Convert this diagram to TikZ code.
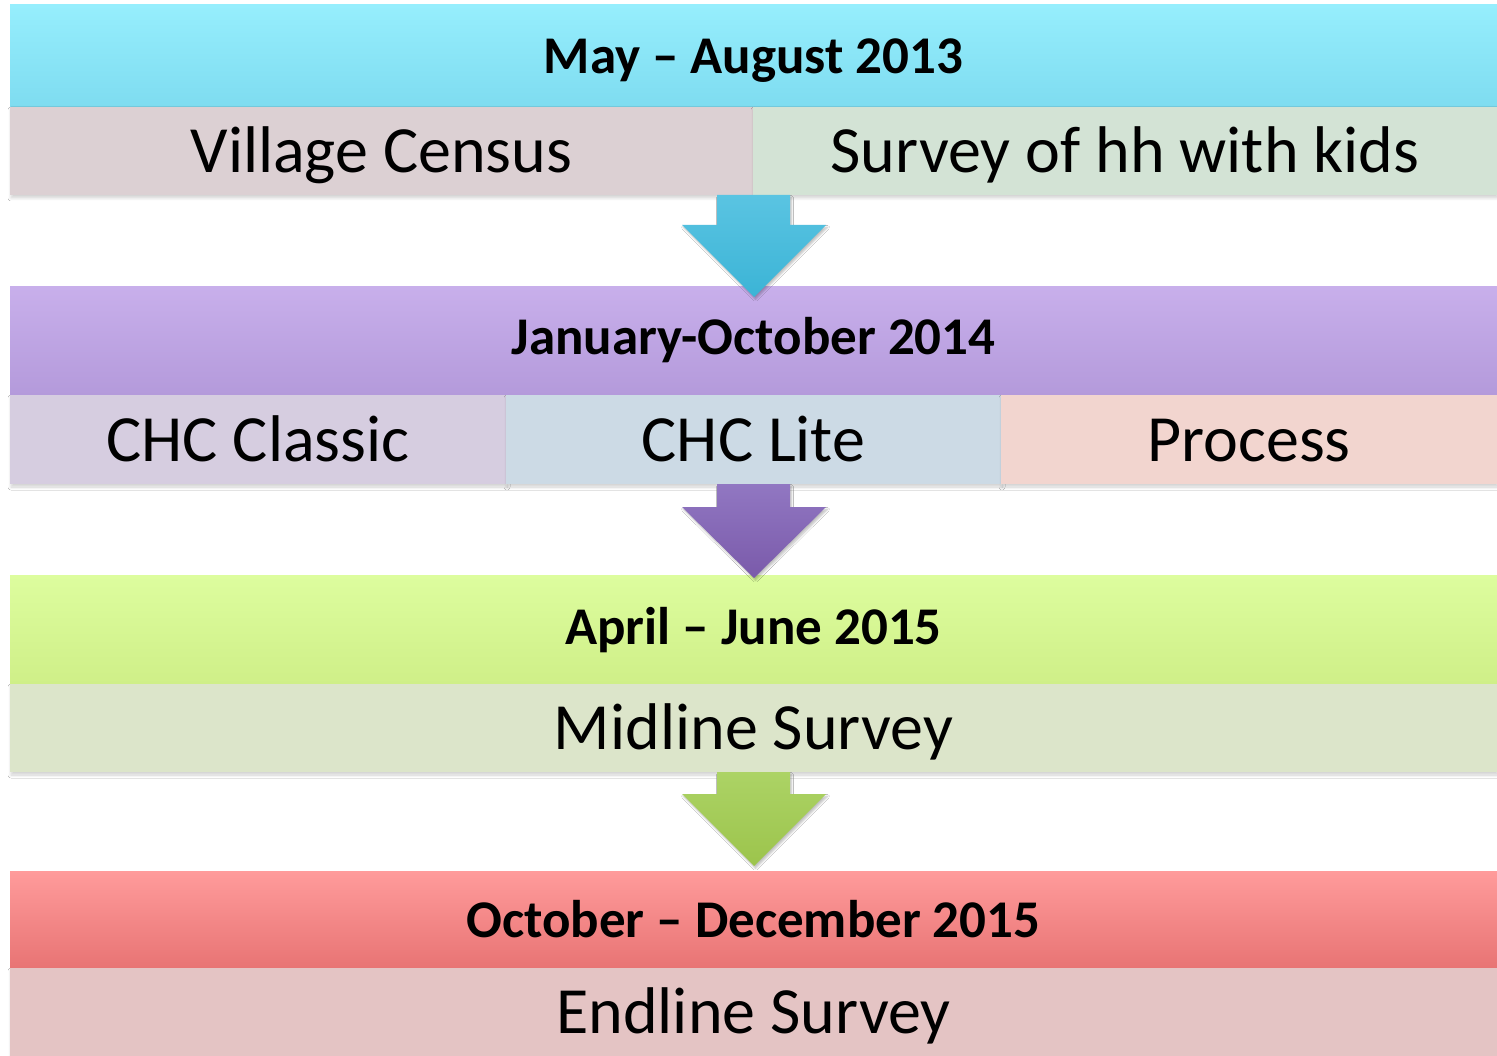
\documentclass[tikz,border=0pt]{standalone}
\usepackage{fontspec}
\setmainfont{Carlito}
\usetikzlibrary{calc,shadows.blur}
\definecolor{hAt}{HTML}{96EEFD}\definecolor{hAb}{HTML}{7EDCF0}
\definecolor{hBt}{HTML}{C8AFEB}\definecolor{hBb}{HTML}{B49ADB}
\definecolor{hCt}{HTML}{DDFD9E}\definecolor{hCb}{HTML}{CFEF88}
\definecolor{hDt}{HTML}{FF9B9B}\definecolor{hDb}{HTML}{E87474}
\definecolor{sVil}{HTML}{DCD0D3}\definecolor{sSur}{HTML}{D3E3D5}
\definecolor{sCla}{HTML}{D6CDE0}\definecolor{sLit}{HTML}{CCDAE5}\definecolor{sPro}{HTML}{F2D5CF}
\definecolor{sMid}{HTML}{DCE5CA}\definecolor{sEnd}{HTML}{E4C4C4}
\definecolor{aAt}{HTML}{5AC4E2}\definecolor{aAb}{HTML}{3BB4D6}
\definecolor{aBt}{HTML}{9177C2}\definecolor{aBb}{HTML}{7A5AAA}
\definecolor{aCt}{HTML}{ACD365}\definecolor{aCb}{HTML}{9CC44C}
\begin{document}
\begin{tikzpicture}[x=1pt,y=-1pt,
  boxbase/.style={rectangle, inner sep=0pt, outer sep=0pt, anchor=north west, text=black},
  hdr/.style={boxbase, font=\fontsize{53}{60}\selectfont\bfseries, text height=36pt, text depth=0pt},
  subbox/.style={boxbase, font=\fontsize{66}{76}\selectfont, text height=43pt, text depth=0pt,
    blur shadow={shadow xshift=1pt, shadow yshift=-3pt, shadow blur steps=8, shadow blur radius=3pt, shadow opacity=18}},
  arr/.style={blur shadow={shadow xshift=1.5pt, shadow yshift=-2.5pt, shadow blur steps=6, shadow opacity=25}}
]
\useasboundingbox (0,0) rectangle (1497,1056);
\fill[white] (0,0) rectangle (1497,1056);

% band 1
\node[hdr, top color=hAt, bottom color=hAb, minimum width=1487pt, minimum height=102pt] (h1) at (10,5) {May -- August 2013};
\node[subbox, fill=sVil, minimum width=743pt, minimum height=88pt] (vil) at (10,107) {Village Census};
\node[subbox, fill=sSur, minimum width=744pt, minimum height=88pt] (sur) at (753,107) {Survey of hh with kids};

% band 2
\node[hdr, top color=hBt, bottom color=hBb, minimum width=1487pt, minimum height=108pt, text depth=8pt] (h2) at (10,287) {January-October 2014};
\node[subbox, fill=sCla, minimum width=496pt, minimum height=89pt] (cla) at (10,395) {CHC Classic};
\node[subbox, fill=sLit, minimum width=495pt, minimum height=89pt] (lit) at (506,395) {CHC Lite};
\node[subbox, fill=sPro, minimum width=496pt, minimum height=89pt] (pro) at (1001,395) {Process};

% band 3
\node[hdr, top color=hCt, bottom color=hCb, minimum width=1487pt, minimum height=109pt, text depth=6pt] (h3) at (10,575) {April -- June 2015};
\node[subbox, fill=sMid, minimum width=1487pt, minimum height=88pt] (mid) at (10,684) {Midline Survey};

% band 4
\node[hdr, top color=hDt, bottom color=hDb, minimum width=1487pt, minimum height=97pt] (h4) at (10,871) {October -- December 2015};
\node[subbox, fill=sEnd, minimum width=1487pt, minimum height=88pt] (endl) at (10,968) {Endline Survey};

% arrows
\shade[arr, top color=aAt, bottom color=aAb]
  (717,195) -- (790,195) -- (790,225) -- (826,225) -- (754,297) -- (682,225) -- (717,225) -- cycle;
\shade[arr, top color=aBt, bottom color=aBb]
  (717,484) -- (790,484) -- (790,507) -- (826,507) -- (754,578) -- (682,507) -- (717,507) -- cycle;
\shade[arr, top color=aCt, bottom color=aCb]
  (717,772) -- (790,772) -- (790,794) -- (826,794) -- (754,866) -- (682,794) -- (717,794) -- cycle;
\end{tikzpicture}
\end{document}
